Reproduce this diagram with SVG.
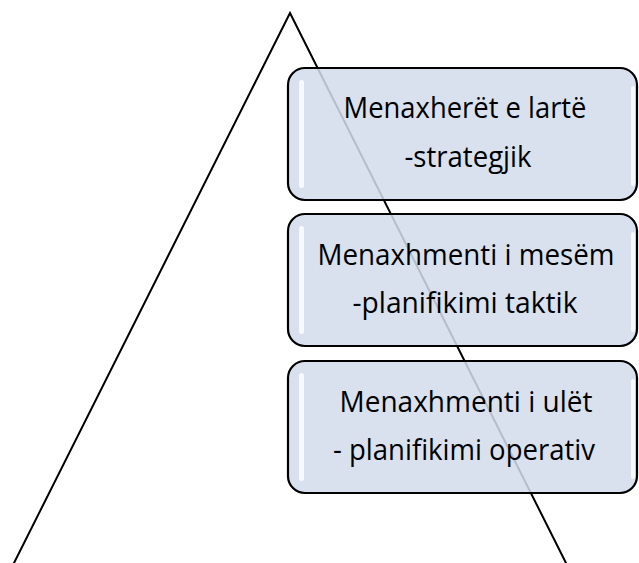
<svg xmlns="http://www.w3.org/2000/svg" width="639" height="563" viewBox="0 0 639 563">
<defs>
<style>
.box{fill:#D3DCEC;fill-opacity:0.86;stroke:#000;stroke-width:2.2}
.hl{fill:#fff;opacity:0.8}
.t{font-family:"Open Sans","Liberation Sans",sans-serif;font-size:28.5px;fill:#000;text-anchor:middle}
</style>
</defs>
<rect width="639" height="563" fill="#fff"/>
<g id="connectors">
<polyline points="13,565 290,13 567,565" fill="none" stroke="#000" stroke-width="2"/>
</g>
<g id="node1">
<rect class="box" x="288" y="68" width="349" height="132" rx="17"/>
<rect class="hl" x="299" y="80" width="5" height="108" rx="2.5"/>
<rect class="hl" x="631" y="86" width="4" height="100" rx="2"/>
<text class="t" x="465" y="118" textLength="243" lengthAdjust="spacingAndGlyphs">Menaxherët e lartë</text>
<text class="t" x="468" y="167" textLength="127" lengthAdjust="spacingAndGlyphs">-strategjik</text>
</g>
<g id="node2">
<rect class="box" x="288" y="214" width="349" height="132" rx="17"/>
<rect class="hl" x="299" y="226" width="5" height="108" rx="2.5"/>
<rect class="hl" x="631" y="232" width="4" height="100" rx="2"/>
<text class="t" x="466" y="265" textLength="297" lengthAdjust="spacingAndGlyphs">Menaxhmenti i mesëm</text>
<text class="t" x="465" y="313" textLength="225" lengthAdjust="spacingAndGlyphs">-planifikimi taktik</text>
</g>
<g id="node3">
<rect class="box" x="288" y="361" width="349" height="132" rx="17"/>
<rect class="hl" x="299" y="373" width="5" height="108" rx="2.5"/>
<rect class="hl" x="631" y="379" width="4" height="100" rx="2"/>
<text class="t" x="466" y="412" textLength="253" lengthAdjust="spacingAndGlyphs">Menaxhmenti i ulët</text>
<text class="t" x="464" y="460" textLength="262" lengthAdjust="spacingAndGlyphs">- planifikimi operativ</text>
</g>
</svg>
